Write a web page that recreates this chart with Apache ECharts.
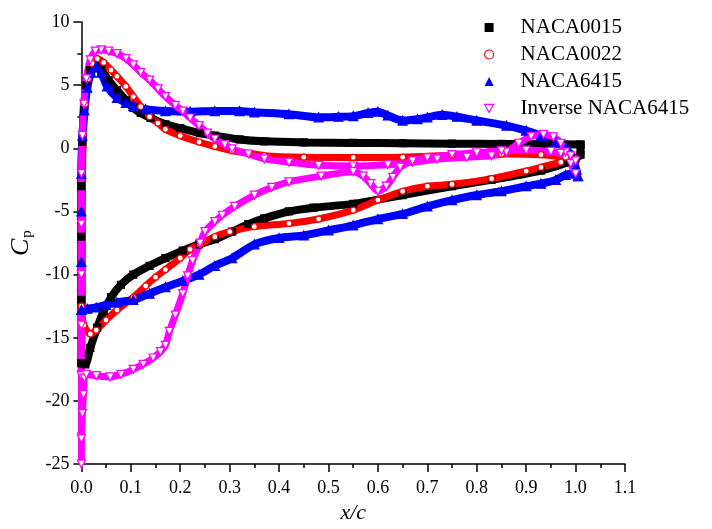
<!DOCTYPE html>
<html>
<head>
<meta charset="utf-8">
<script src="https://cdn.jsdelivr.net/npm/echarts@6/dist/echarts.min.js"></script>
<style>
html,body{margin:0;padding:0;background:#fff;}
#chart{width:712px;height:529px;}
</style>
</head>
<body>
<div id="chart"></div>
<script>
// ---- data: [x/c, Cp] ----
var xTicks = [0.0,0.1,0.2,0.3,0.4,0.5,0.6,0.7,0.8,0.9,1.0,1.1];
var yTicks = [-25,-20,-15,-10,-5,0,5,10];
var seriesNames = ['NACA0015','NACA0022','NACA6415','Inverse NACA6415'];

var naca0015Upper = [[0,-17],[0,-12],[0,-7],[0,-3],[0.002,0.5],[0.005,3],[0.01,5],[0.018,6.2],[0.028,6.6],[0.04,6.2],[0.055,5.4],[0.072,4.6],[0.09,3.8],[0.105,3.2],[0.12,2.8],[0.14,2.4],[0.17,1.9],[0.2,1.6],[0.24,1.2],[0.27,1.0],[0.32,0.7],[0.37,0.55],[0.45,0.47],[0.55,0.43],[0.65,0.4],[0.75,0.37],[0.85,0.35],[0.95,0.33],[1.01,0.3]];
var naca0015Lower = [[0,-17],[0.008,-17.1],[0.018,-15.8],[0.032,-14.2],[0.045,-12.9],[0.06,-11.8],[0.08,-10.8],[0.105,-10.0],[0.138,-9.3],[0.17,-8.7],[0.205,-8.1],[0.238,-7.6],[0.27,-7.2],[0.305,-6.6],[0.338,-6.0],[0.37,-5.55],[0.42,-5.0],[0.47,-4.7],[0.55,-4.4],[0.65,-3.7],[0.75,-3.0],[0.83,-2.5],[0.93,-1.76],[0.985,-1.1],[1.0,-0.8],[1.01,-0.5],[1.01,0.3]];

var naca0022Upper = [[0,-12.5],[0,-9],[0,-5],[0.002,-2],[0.004,1],[0.008,3.5],[0.014,5.5],[0.022,6.7],[0.032,7.1],[0.045,6.8],[0.06,6.2],[0.072,5.7],[0.09,4.9],[0.105,4.1],[0.12,3.3],[0.138,2.5],[0.155,2.0],[0.17,1.5],[0.2,1.0],[0.238,0.5],[0.27,0.15],[0.305,-0.19],[0.34,-0.4],[0.37,-0.58],[0.45,-0.7],[0.55,-0.72],[0.65,-0.7],[0.75,-0.55],[0.85,-0.45],[0.93,-0.5],[0.98,-0.7],[1.0,-0.8]];
var naca0022Lower = [[0,-12.5],[0.005,-14],[0.018,-14.7],[0.03,-14.4],[0.05,-13.6],[0.072,-12.8],[0.105,-11.8],[0.13,-10.9],[0.15,-10.2],[0.17,-9.6],[0.2,-8.7],[0.22,-8.0],[0.24,-7.6],[0.27,-7.0],[0.3,-6.6],[0.35,-6.2],[0.42,-5.95],[0.48,-5.6],[0.55,-4.9],[0.6,-4.1],[0.65,-3.4],[0.7,-3.0],[0.75,-2.85],[0.83,-2.4],[0.9,-1.8],[0.93,-1.5],[0.97,-1.1],[1.0,-0.8]];

var naca6415Upper = [[0,-12.8],[0,-9],[0,-5],[0,-2],[0.002,1],[0.006,3],[0.012,4.8],[0.02,6.0],[0.03,6.5],[0.04,6.0],[0.052,4.9],[0.072,4.0],[0.09,3.6],[0.105,3.35],[0.13,3.1],[0.17,2.95],[0.22,2.9],[0.27,2.95],[0.32,2.95],[0.35,2.85],[0.42,2.7],[0.48,2.45],[0.52,2.5],[0.55,2.55],[0.58,2.8],[0.6,2.9],[0.62,2.6],[0.65,2.2],[0.68,2.3],[0.7,2.45],[0.73,2.65],[0.76,2.5],[0.8,2.2],[0.86,1.8],[0.9,1.4],[0.93,1.0],[0.96,0.5],[0.98,0.0],[0.995,-0.8],[1.0,-1.5],[1.005,-2.2]];
var naca6415Lower = [[0,-12.8],[0.012,-12.7],[0.03,-12.6],[0.05,-12.4],[0.072,-12.2],[0.105,-12.0],[0.138,-11.5],[0.17,-11.0],[0.205,-10.5],[0.238,-10.0],[0.27,-9.3],[0.305,-8.7],[0.35,-7.6],[0.4,-7.1],[0.45,-6.9],[0.5,-6.5],[0.55,-6.1],[0.6,-5.6],[0.65,-5.2],[0.7,-4.6],[0.75,-4.1],[0.8,-3.7],[0.85,-3.4],[0.9,-3.0],[0.93,-2.8],[0.96,-2.5],[0.98,-2.1],[1.0,-2.0],[1.005,-2.2]];

var inverseUpper = [[0,-18],[0,-14],[0,-10],[0,-6],[0,-2],[0.002,1],[0.005,3.5],[0.01,5.5],[0.018,7.0],[0.028,7.7],[0.04,7.8],[0.055,7.7],[0.072,7.5],[0.09,7.1],[0.105,6.6],[0.12,6.0],[0.138,5.4],[0.155,4.7],[0.17,4.1],[0.19,3.4],[0.205,2.95],[0.22,2.4],[0.238,1.8],[0.255,1.2],[0.27,0.73],[0.29,0.3],[0.305,-0.05],[0.338,-0.45],[0.37,-0.84],[0.42,-1.1],[0.48,-1.35],[0.55,-1.4],[0.62,-1.3],[0.67,-1.1],[0.72,-0.85],[0.78,-0.7],[0.83,-0.6],[0.86,-0.3],[0.885,0.4],[0.91,0.95],[0.935,1.1],[0.955,0.9],[0.97,0.4],[0.98,-0.3],[0.99,-1.2],[1.0,-2.0]];
var inverseLower = [[0,-25],[0,-23],[0.002,-21],[0.004,-19.5],[0.006,-18.2],[0.01,-17.9],[0.03,-18.0],[0.058,-18.1],[0.08,-17.9],[0.105,-17.5],[0.125,-17.1],[0.145,-16.6],[0.16,-16.1],[0.17,-15.6],[0.178,-14.5],[0.19,-13.2],[0.205,-11.5],[0.215,-10.1],[0.225,-8.9],[0.24,-7.5],[0.25,-6.6],[0.27,-5.8],[0.285,-5.3],[0.31,-4.6],[0.35,-3.7],[0.385,-3.1],[0.42,-2.65],[0.485,-2.2],[0.55,-1.85],[0.57,-2.2],[0.585,-2.8],[0.6,-3.4],[0.617,-3.0],[0.63,-2.3],[0.645,-1.5],[0.67,-1.0],[0.7,-0.75],[0.75,-0.5],[0.8,-0.35],[0.85,-0.2],[0.9,-0.15],[0.95,-0.25],[0.97,-0.4],[0.99,-0.6],[1.0,-1.0]];

function loop(upper, lower){ return upper.slice().reverse().concat(lower); }

var FONT = 'Liberation Serif';
var chart = echarts.init(document.getElementById('chart'), null, {renderer:'canvas'});

function mkSeries(name, data, color, symbol, size, fill, lw){
  return {
    name: name, type:'line', data: data, clip:false, smooth:0.25,
    symbol: symbol, symbolSize: size, showSymbol:true,
    lineStyle:{color:color, width:lw},
    itemStyle:{color:fill, borderColor:color, borderWidth:1.2},
    emphasis:{disabled:true}, animation:false
  };
}
var downTri = 'path://M0,0 L10,0 L5,9 Z';

var option = {
  animation:false,
  textStyle:{fontFamily:FONT},
  grid:{left:74, right:87, top:22, bottom:61, containLabel:false},
  legend:{
    orient:'vertical', left:484, top:17, padding:0, itemGap:6,
    itemWidth:9, itemHeight:9, selectedMode:false,
    textStyle:{fontFamily:FONT, fontSize:21, color:'#000', padding:[0,0,0,22]},
    data:[
      {name:seriesNames[0], icon:'rect', itemStyle:{color:'#000', borderWidth:0}},
      {name:seriesNames[1], icon:'circle', itemStyle:{color:'#fff', borderColor:'#ff0000', borderWidth:1.2}},
      {name:seriesNames[2], icon:'triangle', itemStyle:{color:'#0000ff', borderWidth:0}},
      {name:seriesNames[3], icon:downTri, itemStyle:{color:'#fff', borderColor:'#ff00ff', borderWidth:1.2}}
    ]
  },
  xAxis:{
    type:'value', min:0, max:1.1, interval:0.1,
    name:'x/c', nameLocation:'middle', nameGap:37,
    nameTextStyle:{fontFamily:FONT, fontSize:22, fontStyle:'italic', color:'#000'},
    axisLine:{show:true, onZero:false, lineStyle:{color:'#000', width:1.5}},
    axisTick:{show:true, inside:false, length:8, lineStyle:{color:'#000', width:1.5}},
    minorTick:{show:true, splitNumber:2, length:4, lineStyle:{color:'#000', width:1.5}},
    splitLine:{show:false},
    axisLabel:{margin:15, fontFamily:FONT, fontSize:18, color:'#000',
      formatter:function(v){ return (Math.round(v*10)/10).toFixed(1); }}
  },
  yAxis:{
    type:'value', min:-25, max:10, interval:5,
    name:'{i|C}{s|p}', nameLocation:'middle', nameGap:33, nameRotate:90,
    nameTextStyle:{fontFamily:FONT, color:'#000',
      rich:{i:{fontFamily:FONT, fontSize:26, fontStyle:'italic', color:'#000'},
            s:{fontFamily:FONT, fontSize:15, color:'#000', padding:[12,0,0,1]}}},
    axisLine:{show:true, onZero:false, lineStyle:{color:'#000', width:1.5}},
    axisTick:{show:true, inside:false, length:8, lineStyle:{color:'#000', width:1.5}},
    minorTick:{show:true, splitNumber:2, length:4, lineStyle:{color:'#000', width:1.5}},
    splitLine:{show:false},
    axisLabel:{margin:12, fontFamily:FONT, fontSize:18, color:'#000'}
  },
  series:[
    mkSeries(seriesNames[0], loop(naca0015Upper, naca0015Lower), '#000000', 'rect', 7, '#000000', 8),
    mkSeries(seriesNames[1], loop(naca0022Upper, naca0022Lower), '#ff0000', 'circle', 6, '#ffffff', 7),
    mkSeries(seriesNames[2], loop(naca6415Upper, naca6415Lower), '#0000ff', 'triangle', 9, '#0000ff', 8),
    mkSeries(seriesNames[3], loop(inverseUpper, inverseLower), '#ff00ff', downTri, 8, '#ffffff', 7)
  ]
};
chart.setOption(option);
</script>
</body>
</html>
